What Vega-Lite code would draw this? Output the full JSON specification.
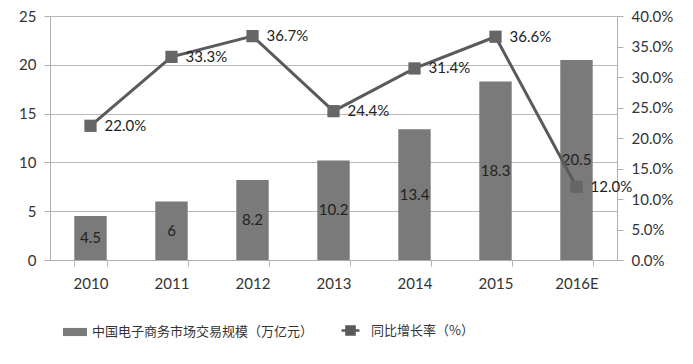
{
  "$schema": "https://vega.github.io/schema/vega-lite/v6.json",
  "autosize": {"type": "none"},
  "width": 567,
  "height": 244,
  "padding": {"left": 50, "top": 16, "right": 76, "bottom": 104},
  "background": "white",
  "config": {
    "view": {"stroke": null},
    "font": "Lato",
    "axis": {"labelFont": "Lato", "labelFontSize": 15, "labelColor": "#333333", "domainColor": "#b0b0b0", "tickColor": "#b0b0b0", "gridColor": "#b8b8b8", "title": null}
  },
  "data": {
    "values": [
      {"year": "2010", "v": 4.5, "r": 0.220},
      {"year": "2011", "v": 6, "r": 0.333},
      {"year": "2012", "v": 8.2, "r": 0.367},
      {"year": "2013", "v": 10.2, "r": 0.244},
      {"year": "2014", "v": 13.4, "r": 0.314},
      {"year": "2015", "v": 18.3, "r": 0.366},
      {"year": "2016E", "v": 20.5, "r": 0.120}
    ]
  },
  "encoding": {
    "x": {
      "field": "year", "type": "nominal", "sort": null,
      "scale": {"paddingInner": 0.6, "paddingOuter": 0.3},
      "axis": {"labelAngle": 0, "tickBand": "extent", "tickSize": 6, "labelPadding": 10, "domainColor": "#b0b0b0", "grid": false}
    }
  },
  "layer": [
    {
      "mark": {"type": "bar", "color": "#7a7a7a"},
      "encoding": {
        "y": {"field": "v", "type": "quantitative", "scale": {"domain": [0, 25]},
          "axis": {"values": [0, 5, 10, 15, 20, 25], "grid": true, "tickSize": 6, "labelPadding": 8, "domain": true}},
        "color": {"datum": "中国电子商务市场交易规模（万亿元）", "type": "nominal",
          "scale": {"range": ["#7a7a7a"]},
          "legend": {"orient": "none", "legendX": 13, "legendY": 304, "title": null, "padding": 0,
            "symbolType": "M-1,-0.34H1V0.34H-1Z", "symbolSize": 576, "symbolStrokeWidth": 0,
            "labelFont": "Noto Sans CJK SC", "labelFontSize": 13, "labelColor": "#333333", "labelOffset": 5, "labelLimit": 400}}
      }
    },
    {
      "mark": {"type": "text", "fontSize": 15, "color": "#222222", "baseline": "middle", "font": "Lato"},
      "encoding": {
        "y": {"field": "v", "type": "quantitative", "scale": {"domain": [0, 50]}, "axis": null},
        "text": {"field": "v", "type": "quantitative"}
      }
    },
    {
      "mark": {"type": "line", "color": "#5a5a5a", "strokeWidth": 3},
      "encoding": {
        "y": {"field": "r", "type": "quantitative", "scale": {"domain": [0, 0.4]},
          "axis": {"orient": "right", "format": ".1%", "values": [0, 0.05, 0.1, 0.15, 0.2, 0.25, 0.3, 0.35, 0.4], "grid": false, "tickSize": 6, "labelPadding": 8}},
        "stroke": {"datum": "同比增长率（%）", "type": "nominal",
          "scale": {"range": ["#5a5a5a"]},
          "legend": {"orient": "none", "legendX": 290, "legendY": 304, "title": null, "padding": 0,
            "symbolType": "M-1,0H1M-0.45,-0.45H0.45V0.45H-0.45Z", "symbolSize": 324, "symbolStrokeWidth": 2.5,
            "symbolFillColor": "#5a5a5a",
            "labelFont": "Noto Sans CJK SC", "labelFontSize": 13, "labelColor": "#333333", "labelOffset": 10, "labelLimit": 300}}
      }
    },
    {
      "mark": {"type": "square", "size": 150, "color": "#666666", "opacity": 1, "filled": true},
      "encoding": {
        "y": {"field": "r", "type": "quantitative", "scale": {"domain": [0, 0.4]}, "axis": null}
      }
    },
    {
      "mark": {"type": "text", "fontSize": 15, "color": "#222222", "align": "left", "baseline": "middle", "dx": 14, "font": "Lato"},
      "encoding": {
        "y": {"field": "r", "type": "quantitative", "scale": {"domain": [0, 0.4]}, "axis": null},
        "text": {"field": "r", "type": "quantitative", "format": ".1%"}
      }
    }
  ],
  "resolve": {"scale": {"y": "independent", "color": "independent"}}
}
